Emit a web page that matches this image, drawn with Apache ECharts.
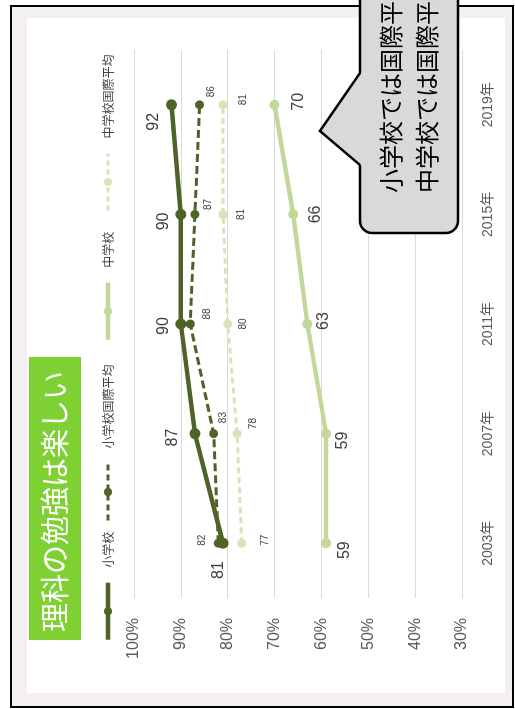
<!DOCTYPE html>
<html><head><meta charset="utf-8">
<script src="https://cdn.jsdelivr.net/npm/echarts@6/dist/echarts.min.js"></script>
<style>
html,body{margin:0;padding:0;width:515px;height:709px;overflow:hidden;background:#fff;}
#rot{position:absolute;left:0;top:0;width:709px;height:515px;transform-origin:0 0;transform:translate(0,709px) rotate(-90deg);}
</style></head><body>
<div id="rot"></div>
<script>
// ---- data ----
const years = ['2003年', '2007年', '2011年', '2015年', '2019年'];
const elementary = [81, 87, 90, 90, 92];
const elementaryIntl = [82, 83, 88, 87, 86];
const juniorHigh = [59, 59, 63, 66, 70];
const juniorHighIntl = [77, 78, 80, 81, 81];
const seriesNames = ['小学校', '小学校国際平均', '中学校', '中学校国際平均'];
const valueMin = 30, valueMax = 100, valueStep = 10;
const titleText = '理科の勉強は楽しい';
const calloutLines = ['小学校では国際平均より高い', '中学校では国際平均より低い'];

// ---- label placement (style only) ----
const offElem = [[-27, -4], [-4, -22], [-2, -17], [-7, -17], [-17, -18]];
const offElemIntl = [[3, -16], [16, 10], [10, 17], [10, 13], [13, 12]];
const offJunior = [[-7, 18], [-7, 16], [3, 16], [0, 22], [3, 24]];
const offJuniorIntl = [[3, 23], [10, 16], [0, 16], [0, 18], [5, 20]];

const DARK = '#4f6228', LIGHT = '#c4d79b', LIGHTER = '#d7e4bb';
const FONT = "'Liberation Sans','Noto Sans CJK JP',sans-serif";
const JP = "'Noto Sans CJK JP',sans-serif";

function withLabels(vals, offs, size) {
  return vals.map((v, i) => ({
    value: v,
    label: { show: true, position: 'inside', offset: offs[i], fontSize: size, color: '#404040', fontFamily: FONT }
  }));
}

const chart = echarts.init(document.getElementById('rot'), null, { renderer: 'canvas', width: 709, height: 515 });

const legendPos = [62, 182, 362, 492];
const legendLine = [
  { width: 4.5, type: 'solid' }, { width: 3, type: [6, 4] },
  { width: 4.5, type: 'solid' }, { width: 3, type: [5, 4] }
];
const legends = seriesNames.map((n, i) => ({
  data: [n], left: legendPos[i], top: 97, itemWidth: 57, itemHeight: 10, selectedMode: false,
  lineStyle: legendLine[i],
  textStyle: { fontSize: 12, color: '#404040', fontFamily: JP, padding: [0, 0, 0, 10] }
}));

chart.setOption({
  animation: false,
  backgroundColor: 'transparent',
  legend: legends,
  grid: { left: 111, top: 134, width: 548, height: 328, containLabel: false },
  xAxis: {
    type: 'category', data: years, boundaryGap: true,
    axisLine: { show: false }, axisTick: { show: false },
    axisLabel: { fontSize: 14, color: '#595959', margin: 19, fontFamily: FONT }
  },
  yAxis: {
    type: 'value', min: valueMin, max: valueMax, interval: valueStep,
    axisLine: { show: false }, axisTick: { show: false },
    axisLabel: { formatter: '{value}%', fontSize: 16, color: '#595959', margin: 20, fontFamily: FONT },
    splitLine: { lineStyle: { color: '#d9d9d9', width: 1 } }
  },
  series: [
    { name: seriesNames[0], type: 'line', data: withLabels(elementary, offElem, 16),
      symbol: 'circle', symbolSize: 11, color: DARK, itemStyle: { color: DARK },
      lineStyle: { color: DARK, width: 4.5 }, z: 5 },
    { name: seriesNames[1], type: 'line', data: withLabels(elementaryIntl, offElemIntl, 10),
      symbol: 'circle', symbolSize: 9, color: DARK, itemStyle: { color: DARK },
      lineStyle: { color: DARK, width: 3, type: [8, 4] }, z: 4 },
    { name: seriesNames[2], type: 'line', data: withLabels(juniorHigh, offJunior, 16),
      symbol: 'circle', symbolSize: 10, color: LIGHT, itemStyle: { color: LIGHT },
      lineStyle: { color: LIGHT, width: 4.5 }, z: 3 },
    { name: seriesNames[3], type: 'line', data: withLabels(juniorHighIntl, offJuniorIntl, 10),
      symbol: 'circle', symbolSize: 9, color: LIGHTER, itemStyle: { color: LIGHTER },
      lineStyle: { color: LIGHTER, width: 3, type: [6, 4] }, z: 3 }
  ],
  graphic: [
    { type: 'rect', z: -20, silent: true, shape: { x: 2, y: 11, width: 701, height: 502 },
      style: { fill: '#f4eff3', stroke: '#000', lineWidth: 2 } },
    { type: 'rect', z: -19, silent: true, shape: { x: 16, y: 27, width: 675, height: 478 },
      style: { fill: '#ffffff' } },
    { type: 'rect', z: 10, silent: true, shape: { x: 69, y: 29, width: 283, height: 52 },
      style: { fill: '#7fd032' } },
    { type: 'text', z: 11, silent: true, x: 77, y: 55,
      style: { text: titleText, fill: '#ffffff', fontSize: 29, fontFamily: JP, verticalAlign: 'middle', align: 'left' } },
    { type: 'rect', z: 50, silent: true, shape: { x: 476, y: 360, width: 280, height: 98, r: 12 },
      style: { fill: '#d9d9d9', stroke: '#000', lineWidth: 2.5 } },
    { type: 'polygon', z: 51, silent: true, shape: { points: [[543, 362], [578, 320], [637, 362]] },
      style: { fill: '#d9d9d9' } },
    { type: 'polyline', z: 52, silent: true, shape: { points: [[544, 360], [578, 320], [636, 360]] },
      style: { fill: null, stroke: '#000', lineWidth: 2.5 } },
    { type: 'text', z: 53, silent: true, x: 516, y: 391,
      style: { text: calloutLines[0], fill: '#000', fontSize: 24, fontFamily: JP, verticalAlign: 'middle', align: 'left' } },
    { type: 'text', z: 53, silent: true, x: 516, y: 427,
      style: { text: calloutLines[1], fill: '#000', fontSize: 24, fontFamily: JP, verticalAlign: 'middle', align: 'left' } }
  ]
});
</script>
</body></html>
